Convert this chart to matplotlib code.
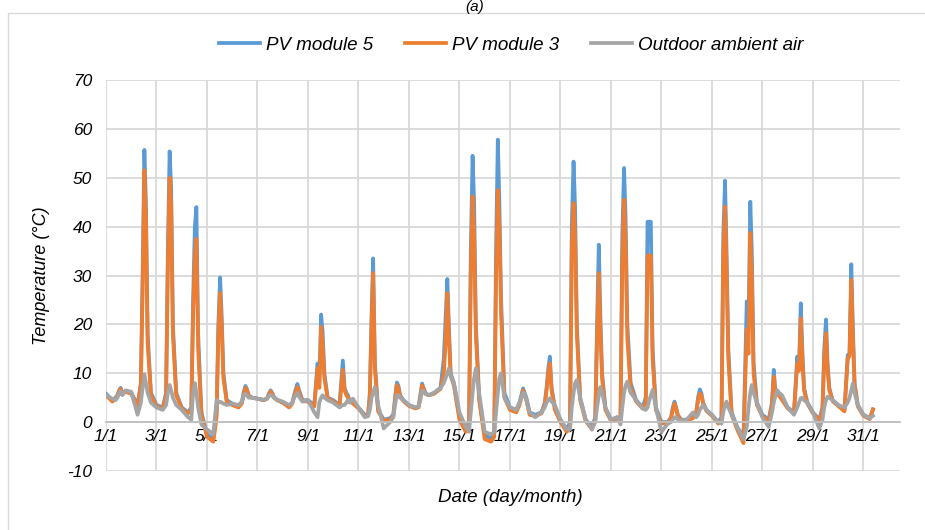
import numpy as np
import matplotlib.pyplot as plt
from matplotlib.patches import Rectangle

plt.rcParams['font.family'] = ['Liberation Sans', 'DejaVu Sans']
plt.rcParams['font.style'] = 'italic'
plt.rcParams['axes.unicode_minus'] = False

# sampling within each day (fraction of day), day 0 = 1/1 00:00
offsets = [0.0, 0.25, 0.38, 0.45, 0.52, 0.58, 0.65, 0.78]

# temperatures, one row per day (°C)
pv5 = [
    5.8, 4.5, 5.0, 5.5, 6.5, 7.0, 6.0, 6.3,        # 1/1
    6.0, 3.5, 8.0, 30.0, 55.7, 45.0, 18.0, 6.0,    # 2/1
    3.5, 3.0, 6.0, 35.0, 55.4, 48.0, 20.0, 6.0,    # 3/1
    3.0, 2.0, 3.0, 25.0, 40.0, 44.0, 18.0, 2.0,    # 4/1
    -2.5, -3.5, 2.0, 20.0, 29.6, 22.0, 10.0, 4.5,  # 5/1
    3.8, 3.2, 4.0, 6.0, 7.4, 6.8, 5.5, 5.0,        # 6/1
    4.8, 4.5, 4.8, 5.8, 6.5, 6.0, 5.2, 4.5,        # 7/1
    4.0, 3.2, 4.0, 5.5, 6.8, 7.8, 6.5, 4.5,        # 8/1
    4.5, 3.5, 12.0, 8.0, 22.0, 18.5, 10.0, 5.0,    # 9/1
    4.5, 3.5, 12.6, 7.0, 6.0, 5.5, 4.5, 4.0,       # 10/1
    3.0, 1.5, 1.5, 6.0, 22.0, 33.5, 12.0, 2.5,     # 11/1
    0.5, 0.8, 1.5, 5.0, 8.1, 7.5, 5.5, 4.5,        # 12/1
    3.5, 3.0, 3.2, 5.5, 7.9, 7.0, 6.0, 5.5,        # 13/1
    6.0, 7.0, 13.0, 21.0, 29.3, 20.0, 10.0, 8.0,   # 14/1
    1.0, -1.5, 0.0, 35.0, 54.5, 45.0, 20.0, 5.0,   # 15/1
    -2.5, -3.5, -2.0, 35.0, 57.8, 45.0, 25.0, 6.0, # 16/1
    3.0, 2.5, 4.0, 5.5, 6.9, 6.0, 5.0, 2.0,        # 17/1
    1.5, 2.0, 4.0, 7.0, 11.0, 13.4, 7.0, 3.0,      # 18/1
    0.5, -1.5, 0.0, 40.0, 53.3, 44.0, 20.0, 5.0,   # 19/1
    0.5, -1.0, 1.0, 20.0, 36.3, 22.0, 10.0, 3.0,   # 20/1
    0.5, 1.0, 0.5, 38.0, 52.0, 42.0, 20.0, 8.0,    # 21/1
    4.5, 3.0, 5.0, 41.0, 41.0, 41.0, 15.0, 3.0,    # 22/1
    0.0, 0.0, 1.0, 3.0, 4.2, 3.0, 1.5, 0.5,        # 23/1
    0.5, 1.0, 2.0, 5.0, 6.7, 6.0, 4.0, 2.5,        # 24/1
    1.5, 0.0, 1.0, 38.0, 49.4, 35.0, 15.0, 2.0,    # 25/1
    -1.0, -3.0, 24.7, 20.0, 45.1, 35.0, 12.0, 4.0, # 26/1
    1.5, 0.5, 4.0, 10.7, 6.0, 6.5, 6.0, 5.0,       # 27/1
    3.0, 2.0, 13.4, 11.0, 24.3, 15.0, 7.0, 4.0,    # 28/1
    2.0, 0.5, 3.0, 15.0, 21.0, 12.0, 7.0, 4.5,     # 29/1
    3.5, 2.5, 13.7, 14.0, 32.3, 20.0, 8.0, 3.5,    # 30/1
    1.5, 0.8, 2.6,                                 # 31/1
]
pv3 = [
    5.5, 4.2, 4.8, 5.3, 6.3, 6.8, 5.8, 6.2,
    5.8, 3.3, 7.5, 27.0, 51.5, 42.0, 16.0, 5.5,
    3.2, 2.8, 5.5, 32.0, 50.0, 44.0, 18.0, 5.5,
    2.8, 1.8, 2.5, 22.0, 34.0, 37.5, 15.0, 1.5,
    -3.0, -4.0, 1.0, 18.0, 26.4, 20.0, 9.0, 4.2,
    3.5, 3.0, 3.8, 5.5, 7.0, 6.5, 5.3, 5.0,
    4.8, 4.5, 4.8, 5.6, 6.3, 5.8, 5.0, 4.5,
    4.0, 3.0, 3.8, 5.2, 6.3, 7.2, 6.0, 4.3,
    4.2, 3.2, 11.0, 7.0, 19.5, 16.0, 9.0, 4.8,
    4.3, 3.2, 10.7, 6.5, 5.5, 5.0, 4.3, 3.8,
    2.8, 1.3, 1.3, 5.0, 20.0, 30.5, 11.0, 2.2,
    0.3, 0.5, 1.2, 4.5, 7.6, 7.0, 5.2, 4.3,
    3.3, 2.8, 3.0, 5.0, 7.5, 6.8, 5.8, 5.5,
    5.8, 6.8, 10.0, 16.0, 26.4, 18.0, 9.5, 7.5,
    0.5, -2.0, -1.0, 30.0, 46.2, 38.0, 18.0, 4.5,
    -3.5, -4.0, -3.0, 30.0, 47.5, 40.0, 22.0, 5.0,
    2.5, 2.0, 3.5, 5.0, 6.5, 5.5, 4.5, 1.5,
    1.2, 1.8, 3.5, 6.5, 10.0, 12.0, 6.5, 2.5,
    0.0, -2.0, -1.0, 35.0, 44.8, 38.0, 18.0, 4.5,
    0.2, -1.5, 0.5, 17.0, 30.5, 19.0, 9.0, 2.5,
    0.3, 0.5, 0.2, 33.0, 45.5, 37.0, 17.0, 7.0,
    4.2, 2.8, 4.0, 34.0, 34.2, 34.0, 13.0, 2.5,
    -0.3, -0.2, 0.8, 2.5, 3.8, 2.8, 1.2, 0.3,
    0.3, 0.8, 1.8, 4.5, 5.9, 5.5, 3.8, 2.3,
    1.3, -0.3, 0.0, 34.0, 44.1, 31.0, 13.0, 1.5,
    -1.5, -4.3, 19.0, 14.0, 38.7, 30.0, 10.0, 3.5,
    1.2, 0.3, 3.5, 9.3, 5.5, 6.0, 5.5, 4.5,
    2.8, 1.8, 12.0, 10.5, 21.2, 13.0, 6.5, 3.8,
    1.8, 0.3, 2.5, 13.0, 18.2, 11.0, 6.5, 4.3,
    3.3, 2.2, 13.0, 13.5, 29.1, 18.0, 7.5, 3.2,
    1.3, 0.6, 2.6,
]
air = [
    5.5, 4.8, 4.5, 5.0, 5.8, 6.3, 5.5, 6.5,
    6.2, 1.5, 4.0, 7.0, 9.8, 8.0, 6.0, 4.0,
    3.0, 2.5, 3.5, 6.0, 7.6, 6.5, 5.0, 3.5,
    2.5, 1.0, 0.5, 6.0, 8.0, 6.0, 3.0, -0.5,
    -1.5, -2.5, 4.5, 4.0, 4.2, 4.0, 3.8, 3.5,
    3.8, 3.5, 4.2, 5.5, 5.8, 5.5, 5.0, 5.0,
    4.8, 4.6, 4.8, 5.3, 5.6, 5.4, 5.0, 4.6,
    4.2, 3.5, 4.0, 5.0, 5.5, 6.0, 5.2, 4.2,
    4.5, 2.0, 1.0, 4.0, 5.0, 5.5, 5.0, 4.5,
    4.0, 3.0, 3.5, 3.5, 4.0, 4.5, 4.0, 4.8,
    3.0, 1.0, 1.2, 2.5, 5.0, 6.0, 7.2, 3.5,
    -1.3, 0.0, 1.0, 3.5, 5.5, 5.5, 5.0, 4.5,
    3.5, 3.0, 3.2, 4.5, 6.5, 6.3, 5.8, 5.5,
    6.0, 7.0, 8.0, 9.0, 10.0, 11.0, 9.5, 8.0,
    2.0, -1.0, -2.0, 2.0, 6.0, 9.0, 11.0, 6.0,
    -2.0, -2.5, -2.0, 2.0, 6.0, 9.0, 10.0, 5.0,
    3.0, 2.5, 4.0, 5.0, 6.0, 5.8, 4.5, 2.0,
    1.0, 2.0, 3.0, 4.0, 4.5, 4.9, 4.2, 3.5,
    0.5, -1.5, -1.5, 3.0, 6.0, 8.0, 8.6, 5.0,
    0.5, -1.5, 0.0, 3.0, 5.5, 7.2, 6.0, 3.0,
    0.5, 1.0, -0.5, 3.0, 6.0, 7.5, 8.3, 6.0,
    4.5, 2.8, 2.5, 3.0, 4.5, 5.5, 6.6, 3.0,
    -2.0, -0.3, 0.0, 0.5, 1.0, 1.0, 0.5, 0.3,
    0.5, 2.0, 1.0, 1.5, 2.5, 3.0, 3.5, 2.5,
    1.5, 0.0, -0.3, 2.0, 3.5, 4.2, 3.0, 1.5,
    -1.0, -3.5, -1.0, 3.0, 6.0, 7.6, 6.0, 4.0,
    1.0, -1.0, 2.0, 4.0, 5.5, 6.5, 6.0, 5.5,
    3.0, 1.5, 3.0, 4.0, 4.9, 5.0, 4.5, 4.0,
    2.0, -1.3, 0.5, 3.0, 4.5, 5.2, 5.0, 4.5,
    3.5, 3.0, 4.0, 5.0, 6.5, 7.9, 6.0, 3.5,
    1.5, 0.8, 1.3,
]

tick_days = list(range(0, 31, 2))
tick_labels = [f'{d + 1}/1' for d in tick_days]

t = (np.arange(31)[:, None] + np.array(offsets)[None, :]).ravel()[:len(pv5)]

fig = plt.figure(figsize=(9.25, 5.3), dpi=100)
fig.patches.append(Rectangle((8 / 925, -0.05), 1.2, 1.05 - 13 / 530,
                             transform=fig.transFigure, fill=False,
                             edgecolor='#D9D9D9', linewidth=1.0))
ax = fig.add_axes([106 / 925, 1 - 471 / 530, 794 / 925, 391 / 530])

ax.plot(t, pv5, color='#5B9BD5', lw=2.7, label='PV module 5')
ax.plot(t, pv3, color='#ED7D31', lw=2.7, label='PV module 3')
ax.plot(t, air, color='#A5A5A5', lw=2.7, label='Outdoor ambient air')

ax.set_xlim(0, 31.45)
ax.set_ylim(-10, 70)
ax.set_yticks(range(-10, 71, 10))
ax.set_xticks(tick_days)
ax.set_xticklabels(tick_labels)
ax.grid(True, color='#D9D9D9', lw=1.3)
ax.set_axisbelow(True)
for s in ['top', 'right', 'left']:
    ax.spines[s].set_visible(False)
ax.spines['bottom'].set_position(('data', 0))
ax.spines['bottom'].set_color('#BFBFBF')
ax.spines['bottom'].set_linewidth(1.3)
ax.tick_params(axis='both', length=0, labelsize=12.5, colors='#000000')
ax.tick_params(axis='x', pad=5)
ax.tick_params(axis='y', pad=10)

ax.set_ylabel('Temperature (°C)', fontsize=13, labelpad=12)
fig.text(510 / 925, 1 - 497 / 530, 'Date (day/month)', fontsize=13.5,
         ha='center', va='center')
fig.text(475 / 925, 1.0, '(a)', fontsize=11, ha='center', va='top')

ax.legend(loc='center', bbox_to_anchor=(511 / 925, 1 - 45 / 530),
          bbox_transform=fig.transFigure, ncol=3, frameon=False,
          fontsize=13.5, handlelength=2.2, handletextpad=0.3,
          columnspacing=1.7)

fig.savefig('out.png', dpi=100)
